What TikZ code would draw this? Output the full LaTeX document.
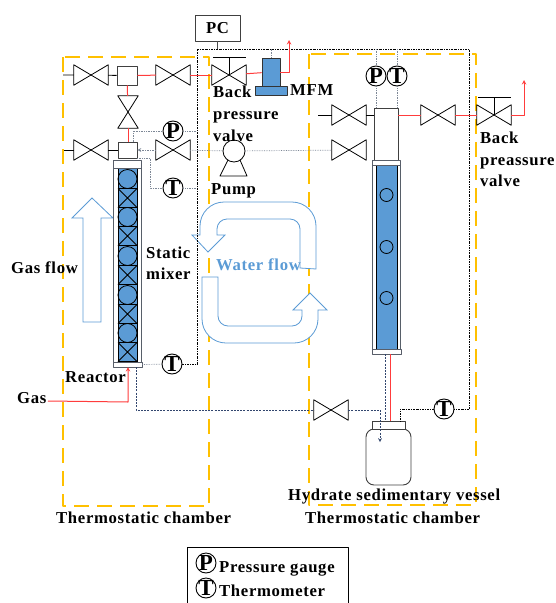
\documentclass[tikz,border=0pt]{standalone}
\usepackage{fontspec}
\setmainfont{Liberation Serif}
\definecolor{chamberorange}{RGB}{255,192,0}
\definecolor{fillblue}{RGB}{91,155,213}
\definecolor{pipered}{RGB}{255,60,60}
\definecolor{signalgray}{RGB}{125,135,150}
\definecolor{navyline}{RGB}{50,70,110}
\newcommand{\gaugeletter}[1]{\makebox[0pt]{\raisebox{-0.33em}[0pt][0pt]{#1}}}
\tikzset{
	lbl/.style={font=\fontsize{16.7}{22}\selectfont\bfseries\addfontfeatures{LetterSpace=4}, inner sep=0pt, align=left},
	valvebox/.style={minimum width=34pt, minimum height=20pt, inner sep=0pt},
	vvalvebox/.style={minimum width=20pt, minimum height=32pt, inner sep=0pt},
	gauge/.style={circle, draw, line width=0.9pt, fill=white, minimum size=20pt, inner sep=0pt, font=\fontsize{23}{23}\selectfont\bfseries},
	whitebox/.style={draw=black!75, line width=0.9pt, fill=white, inner sep=0pt},
	pipe/.style={pipered, line width=1pt},
	stub/.style={black, line width=0.9pt},
	signal/.style={signalgray, line width=0.7pt, densely dotted},
	ctrl/.style={black, line width=0.7pt, dash pattern=on 2pt off 1pt on 0.7pt off 1pt},
	navy/.style={navyline, line width=0.7pt, dash pattern=on 2pt off 1.2pt},
	chamber/.style={chamberorange, line width=2pt, dash pattern=on 15pt off 8pt},
	flowarrow/.style={fillblue, line width=0.8pt, fill=white, line join=miter}
}
\begin{document}
\begin{tikzpicture}[x=1pt, y=-1pt, line join=round, >=stealth]
\useasboundingbox (0,0) rectangle (555,603);
% chambers
\draw[chamber] (63,57) rectangle (209,506);
\draw[chamber] (309,54) rectangle (476,505);
% flow arrows
\draw[flowarrow] (92,198) -- (113,218) -- (101,218) -- (101,322) -- (83,322) -- (83,218) -- (72,218) -- cycle;
\draw[flowarrow] (316,269) -- (316,226) arc[start angle=0, end angle=-90, radius=24] -- (224,202) arc[start angle=-90, end angle=-180, radius=24] -- (200,235) -- (192,235) -- (208,252) -- (225,235) -- (217,235) -- (217,229) arc[start angle=180, end angle=270, radius=10] -- (290,219) arc[start angle=270, end angle=360, radius=10] -- (300,268) -- cycle;
\draw[flowarrow] (202,277) -- (218,277) -- (218,316) arc[start angle=180, end angle=90, radius=10] -- (292,326) arc[start angle=90, end angle=0, radius=10] -- (302,310) -- (293,310) -- (310,293) -- (327,310) -- (318,310) -- (318,319) arc[start angle=0, end angle=90, radius=24] -- (226,343) arc[start angle=90, end angle=180, radius=24] -- cycle;
% control lines
\coordinate (cL) at (197,49);
\coordinate (cR) at (469,49);
\coordinate (cB) at (469,409);
\coordinate (cV) at (400,421);
\coordinate (cJ) at (197,364);
\node[draw=black!75, line width=0.9pt, minimum width=45pt, minimum height=26pt, inner sep=0pt, font=\fontsize{16.7}{16.7}\selectfont\bfseries\addfontfeatures{LetterSpace=4}] (PC) at (217.5,28) {PC};
\draw[black!70, line width=0.9pt] (PC) -- (PC |- cL);
\draw[ctrl] (cJ) -- (cL) -- (cR) -- (cB);
% reactor
\draw[signalgray!70!black, line width=1pt, fill=white] (113.5,165) rectangle (141.5,362);
\fill[fillblue] (118,168) rectangle (137,362);
\draw[black, line width=0.9pt] (118,168) -- (118,362) (137,168) -- (137,362);
\foreach \y in {179,217,256,295,333}
	\draw[black, line width=0.8pt] (127.5,\y) circle[radius=9.5];
\foreach \y in {198,236,275,314,352}{
	\draw[black, line width=0.8pt] (118,\y-9.5) rectangle (137,\y+9.5);
	\draw[black, line width=0.8pt] (118,\y-9.5) -- (137,\y+9.5) (118,\y+9.5) -- (137,\y-9.5);
}
\node[whitebox, draw=signalgray!70!black, minimum width=28pt, minimum height=8pt] (capA) at (127.5,164) {};
\node[whitebox, draw=signalgray!70!black, minimum width=29pt, minimum height=5pt] (capB) at (127.5,364.5) {};
% vessel on the right
\draw[signalgray!70!black, line width=1pt, fill=white] (372.5,165) rectangle (400,349);
\fill[fillblue] (376,165) rectangle (397,349);
\draw[black, line width=0.9pt] (376,165) -- (376,349) (397,165) -- (397,349);
\foreach \y in {195,247,298}
	\draw[black, line width=0.8pt] (386.5,\y) circle[radius=6.5];
\node[whitebox, minimum width=24pt, minimum height=52pt] (colTop) at (386,134) {};
\node[whitebox, draw=signalgray!70!black, minimum width=28pt, minimum height=5pt] (capC) at (386,162.5) {};
\node[whitebox, draw=signalgray!70!black, minimum width=29pt, minimum height=5pt] (capD) at (386.5,351.5) {};
% valves
\foreach \name/\x/\y in {vA/91/75, vB/173/75, vBP/229/75, vC/91/150, vD/173/150, vE/349/115, vF/349/150, vG/438/115, vBQ/494/115, vH/331/410}{
	\node[valvebox] (\name) at (\x,\y) {};
	\draw[black, line width=0.8pt] (\name.north west) -- (\name.south east) -- (\name.north east) -- (\name.south west) -- cycle;
}
\node[vvalvebox] (vV) at (128,112) {};
\draw[black, line width=0.8pt] (vV.north west) -- (vV.north east) -- (vV.south west) -- (vV.south east) -- cycle;
\draw[stub] (vBP.center) -- (vBP.center |- 0,57.5) coordinate (stemA);
\draw[stub] (213,57.5) -- (246,57.5);
\draw[stub] (vBQ.center) -- (vBQ.center |- 0,97.5) coordinate (stemB);
\draw[stub] (478,97.5) -- (511,97.5);
% boxes on the lines
\node[whitebox, minimum width=20pt, minimum height=19pt] (boxA) at (127,75.5) {};
\node[whitebox, minimum width=19pt, minimum height=16pt] (boxB) at (127.5,150) {};
% MFM
\node[draw=black!80, line width=0.9pt, fill=fillblue, minimum width=32pt, minimum height=9pt, inner sep=0pt] (mfmBase) at (271,90.5) {};
\node[draw=black!80, line width=0.9pt, fill=fillblue, minimum width=18pt, minimum height=28pt, inner sep=0pt] (mfm) at (271,72) {};
% pipes
\coordinate (stubA) at (63,75);
\coordinate (stubC) at (64,150);
\coordinate (stubE) at (318,115);
\coordinate (ventA) at (289,40);
\coordinate (ventB) at (524,80);
\draw[stub] (stubA) -- (vA) -- (boxA);
\draw[stub] (stubC) -- (vC) -- (boxB);
\draw[stub] (stubE) -- (vE) -- (vE -| colTop.west);
\draw[pipe] (boxA) -- (vB);
\draw[pipe] (vB) -- (vBP);
\draw[pipe] (vBP) -- (mfm);
\draw[pipe] (boxA) -- (vV);
\draw[pipe] (vV) -- (boxB.north -| vV);
\draw[pipe, ->] (mfm.east) -| (ventA);
\draw[pipe] (vG -| colTop.east) -- (vG);
\draw[pipe] (vG) -- (vBQ);
\draw[pipe, ->] (vBQ.east) -| (ventB);
% bottle
\node[draw=black!75, line width=0.9pt, fill=white, rounded corners=8pt, minimum width=45pt, minimum height=56pt, inner sep=0pt] (bottle) at (388.5,457) {};
\node[whitebox, minimum width=33pt, minimum height=8pt] (neck) at (388.5,425) {};
\coordinate (redTop) at (390,354);
\coordinate (redEnd) at (390,421);
\draw[pipered, line width=1pt] (redTop) -- (redEnd);
\coordinate (gasOut) at (385,354);
\coordinate (gasIn) at (385,421);
\draw[navy] (gasOut) -- (gasIn);
% gauges
\node[gauge] (pA) at (173,131) {\gaugeletter{P}};
\node[gauge] (tA) at (173,188) {\gaugeletter{T}};
\node[gauge] (tB) at (172,364) {\gaugeletter{T}};
\node[gauge] (pB) at (376,76) {\gaugeletter{P}};
\node[gauge] (tC) at (397,76) {\gaugeletter{T}};
\node[gauge] (tD) at (444,409) {\gaugeletter{T}};
\node[gauge] (pL) at (206,563) {\gaugeletter{P}};
\node[gauge] (tL) at (206,588) {\gaugeletter{T}};
% pump
\node[circle, draw=black, line width=0.8pt, fill=white, minimum size=22pt, inner sep=0pt] (pump) at (234,151) {};
\draw[black, line width=0.8pt] (228,160) -- (220,176) -- (247,176) -- (240,160);
% signal lines
\coordinate (sA) at (133,142);
\coordinate (sB) at (137,158);
\coordinate (sC) at (150,158);
\draw[signal] (sA) |- (pA);
\draw[signal] (pA) -- (pA -| cL);
\draw[signal] (sB) -- (sC) |- (tA);
\draw[signal] (tA) -- (tA -| cL);
\draw[signal, ->] (vD) -- (boxB);
\draw[signal] (vD) -- (pump);
\draw[signal] (pump) -- (vF);
\draw[signal] (capB.east) -- (tB);
\draw[ctrl] (tB) -- (cJ);
\draw[signal] (pB.north |- cR) -- (pB);
\draw[signal] (pB) -- (pB |- colTop.north);
\draw[signal] (tC.north |- cR) -- (tC);
\draw[signal] (tC) -- (tC |- colTop.north);
\draw[signal] (mfm.north) -- (mfm.north |- cR);
\draw[ctrl] (cB) -- (tD);
\draw[ctrl] (tD) -| (cV);
% gas lines
\coordinate (gasStart) at (48,401);
\coordinate (gasDown) at (136,367);
\coordinate (gasCorner) at (136,410);
\coordinate (probe) at (380,442);
\draw[pipe, ->] (gasStart) -- (128,402) -- (128,367);
\draw[navy] (gasDown) -- (gasCorner) -- (vH);
\draw[navy, ->] (vH) -| (probe);
% labels
\node[lbl, anchor=base west] (lPC) at (213,97) {Back};
\node[lbl, anchor=base west] (lPCb) at (213,119) {pressure};
\node[lbl, anchor=base west] (lPCc) at (213,141) {valve};
\node[lbl, anchor=base west] (lMFM) at (290,95) {MFM};
\node[lbl, anchor=base west] (lPump) at (211,194) {Pump};
\node[lbl, anchor=base west] (lStatic) at (146,258) {Static};
\node[lbl, anchor=base west] (lMixer) at (146,279) {mixer};
\node[lbl, anchor=base west] (lGasFlow) at (11,273) {Gas flow};
\node[lbl, anchor=base west] (lReactor) at (65,382) {Reactor};
\node[lbl, anchor=base west] (lGas) at (17,403) {Gas};
\node[lbl, anchor=base west, text=fillblue] (lWater) at (216,270) {Water flow};
\node[lbl, anchor=base west] (lBack) at (480,143) {Back};
\node[lbl, anchor=base west] (lBackb) at (480,165) {preassure};
\node[lbl, anchor=base west] (lBackc) at (480,186) {valve};
\node[lbl, anchor=base west] (lVessel) at (288,500) {Hydrate sedimentary vessel};
\node[lbl, anchor=base west] (lChA) at (56,523) {Thermostatic chamber};
\node[lbl, anchor=base west] (lChB) at (305,523) {Thermostatic chamber};
\node[lbl, anchor=base west] (lLegP) at (219,572) {Pressure gauge};
\node[lbl, anchor=base west] (lLegT) at (219,596) {Thermometer};
\draw[black, line width=0.9pt] (187,603) -- (187,547) -- (348,547) -- (348,603);
\end{tikzpicture}
\end{document}
